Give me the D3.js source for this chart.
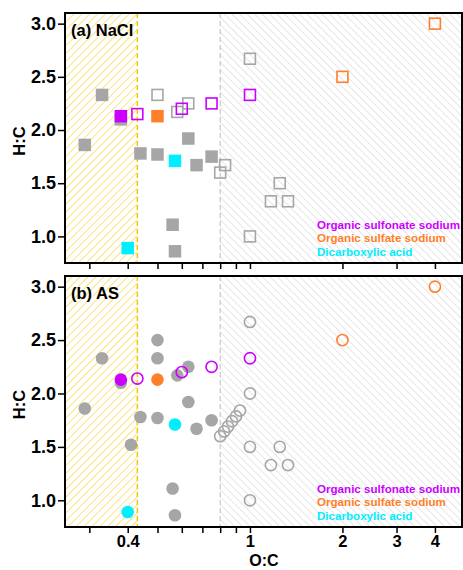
<!DOCTYPE html>
<html><head><meta charset="utf-8">
<script src="https://cdn.jsdelivr.net/npm/d3@7"></script>
<style>body{margin:0;background:#fff}text{font-family:"Liberation Sans",Arial,sans-serif;font-weight:bold}</style>
</head><body><svg id="c" width="463" height="570"></svg>
<script>
// ---- data ----
const xTicks = [0.3,0.4,0.5,0.6,0.7,0.8,0.9,1,2,3,4];
const xTickLabels = [0.4,1,2,3,4];
const yTicks = [1.0,1.5,2.0,2.5,3.0];
const legendLabels = ["Organic sulfonate sodium","Organic sulfate sodium","Dicarboxylic acid"];
const panelLabels = ["(a) NaCl","(b) AS"];
const boundLow = 0.43, boundHigh = 0.8;

const grayFilledA = [[0.29,1.86],[0.33,2.33],[0.38,2.10],[0.44,1.78],[0.50,1.77],[0.56,1.11],[0.57,0.86],[0.63,1.92],[0.67,1.67],[0.75,1.75]];
const grayOpenA = [[0.50,2.33],[0.58,2.17],[0.63,2.25],[0.80,1.60],[0.83,1.67],[1,2.67],[1,1.0],[1.17,1.33],[1.25,1.5],[1.33,1.33]];
const sulfonateFilledA = [[0.38,2.13]];
const sulfonateOpenA = [[0.43,2.15],[0.60,2.20],[0.75,2.25],[1.0,2.33]];
const sulfateFilledA = [[0.50,2.13]];
const sulfateOpenA = [[2,2.5],[4,3.0]];
const dicarbFilledA = [[0.57,1.71],[0.40,0.89]];

const grayFilledB = [[0.29,1.86],[0.33,2.33],[0.38,2.10],[0.41,1.52],[0.44,1.78],[0.50,1.77],[0.50,2.33],[0.50,2.50],[0.56,1.11],[0.57,0.86],[0.58,2.17],[0.63,2.25],[0.63,1.92],[0.67,1.67],[0.75,1.75]];
const grayOpenB = [[0.80,1.60],[0.824,1.645],[0.848,1.69],[0.874,1.74],[0.90,1.785],[0.928,1.84],[1,2.67],[1,2.0],[1,1.5],[1,1.0],[1.17,1.33],[1.25,1.5],[1.33,1.33]];
const sulfonateFilledB = [[0.38,2.13]];
const sulfonateOpenB = [[0.43,2.14],[0.60,2.20],[0.75,2.25],[1.0,2.33]];
const sulfateFilledB = [[0.50,2.13]];
const sulfateOpenB = [[2,2.5],[4,3.0]];
const dicarbFilledB = [[0.57,1.71],[0.40,0.89]];

// ---- styles ----
const C = {gray:"#a6a6a6", purple:"#cc00ff", orange:"#ff7f2a", cyan:"#00eeff"};
const svg = d3.select("#c");
const L = 65, R = 462;
const x = d3.scaleLog().domain([0.25,4.9]).range([L,R]);

const defs = svg.append("defs");
function hatch(id, color, angle, sp, w){
  const p = defs.append("pattern").attr("id",id).attr("patternUnits","userSpaceOnUse")
    .attr("width",sp).attr("height",sp).attr("patternTransform",`rotate(${angle})`);
  p.append("line").attr("x1",0).attr("y1",0).attr("x2",0).attr("y2",sp)
    .attr("stroke",color).attr("stroke-width",w);
}
hatch("hy","#f5c800",45,5.6,1);
hatch("hg","#c8c8c8",-45,5.3,0.9);

const panels = [
  {top:13, bottom:263, label:panelLabels[0], shape:"square", showX:false,
   gf:grayFilledA, go:grayOpenA, sf:sulfonateFilledA, so:sulfonateOpenA, tf:sulfateFilledA, to:sulfateOpenA, df:dicarbFilledA},
  {top:276, bottom:527, label:panelLabels[1], shape:"circle", showX:true,
   gf:grayFilledB, go:grayOpenB, sf:sulfonateFilledB, so:sulfonateOpenB, tf:sulfateFilledB, to:sulfateOpenB, df:dicarbFilledB}
];

const FONT = "'Liberation Sans',Arial,sans-serif";

panels.forEach((P,i)=>{
  const y = d3.scaleLinear().domain([0.75,3.1]).range([P.bottom,P.top]);
  const g = svg.append("g");
  const cid = "clip"+i;
  defs.append("clipPath").attr("id",cid).append("rect")
    .attr("x",L).attr("y",P.top).attr("width",R-L).attr("height",P.bottom-P.top);
  const pg = g.append("g").attr("clip-path",`url(#${cid})`);
  // hatched regions
  pg.append("rect").attr("x",L).attr("y",P.top).attr("width",x(boundLow)-L).attr("height",P.bottom-P.top).attr("fill","url(#hy)");
  pg.append("rect").attr("x",x(boundHigh)).attr("y",P.top).attr("width",R-x(boundHigh)).attr("height",P.bottom-P.top).attr("fill","url(#hg)");
  pg.append("line").attr("x1",x(boundLow)).attr("x2",x(boundLow)).attr("y1",P.top).attr("y2",P.bottom)
    .attr("stroke","#f5c800").attr("stroke-width",1.5).attr("stroke-dasharray","5,3");
  pg.append("line").attr("x1",x(boundHigh)).attr("x2",x(boundHigh)).attr("y1",P.top).attr("y2",P.bottom)
    .attr("stroke","#c8c8c8").attr("stroke-width",1.2).attr("stroke-dasharray","5,3");

  function marks(data, color, filled){
    const s = 12.5, r = 6.3;
    const sel = pg.selectAll(null).data(data).enter();
    let m;
    if(P.shape==="square"){
      const ss = filled ? s : s-1.6;
      m = sel.append("rect").attr("x",d=>x(d[0])-ss/2).attr("y",d=>y(d[1])-ss/2).attr("width",ss).attr("height",ss);
    } else {
      m = sel.append("circle").attr("cx",d=>x(d[0])).attr("cy",d=>y(d[1])).attr("r",filled? r : r-0.7);
    }
    if(filled) m.attr("fill",color);
    else m.attr("fill","none").attr("stroke",color).attr("stroke-width",1.6);
  }
  marks(P.gf, C.gray, true);
  marks(P.go, C.gray, false);
  marks(P.sf, C.purple, true);
  marks(P.so, C.purple, false);
  marks(P.tf, C.orange, true);
  marks(P.to, C.orange, false);
  marks(P.df, C.cyan, true);

  // frame
  g.append("rect").attr("x",L).attr("y",P.top).attr("width",R-L).attr("height",P.bottom-P.top)
    .attr("fill","none").attr("stroke","#000").attr("stroke-width",2);

  // y axis
  const ya = g.append("g").attr("transform",`translate(${L-1},0)`)
    .call(d3.axisLeft(y).tickValues(yTicks).tickFormat(d3.format(".1f")).tickSize(6).tickPadding(2));
  ya.select(".domain").remove();
  ya.selectAll("line").attr("stroke","#000").attr("stroke-width",1.5);
  ya.selectAll("text").attr("font-size",18).attr("font-weight","bold").attr("fill","#000").style("font-family",FONT);

  // x axis
  const xa = g.append("g").attr("transform",`translate(0,${P.bottom+1})`)
    .call(d3.axisBottom(x).tickValues(xTicks).tickSize(5).tickPadding(2)
      .tickFormat(d=> P.showX && xTickLabels.includes(d) ? String(d) : ""));
  xa.select(".domain").remove();
  xa.selectAll("line").attr("stroke","#000").attr("stroke-width",1.5);
  xa.selectAll("text").attr("font-size",16.5).attr("font-weight","bold").attr("fill","#000").style("font-family",FONT);

  // panel label
  g.append("text").attr("x",71).attr("y",P.top+22.5).attr("font-size",16.5).attr("fill","#000").text(P.label);

  // y title
  const yc = (P.top+P.bottom)/2 + 3;
  g.append("text").attr("transform",`translate(25,${yc}) rotate(-90)`).attr("text-anchor","middle")
    .attr("font-size",16.5).attr("fill","#000").text("H:C");

  // legend
  const lc = [C.purple, C.orange, C.cyan];
  legendLabels.forEach((t,k)=>{
    g.append("text").attr("x",317).attr("y",P.bottom-34.5+k*13.8).attr("font-size",11.6).attr("fill",lc[k]).text(t);
  });
});

svg.append("text").attr("x",264).attr("y",566).attr("text-anchor","middle").attr("font-size",16).attr("fill","#000").text("O:C");
</script></body></html>
